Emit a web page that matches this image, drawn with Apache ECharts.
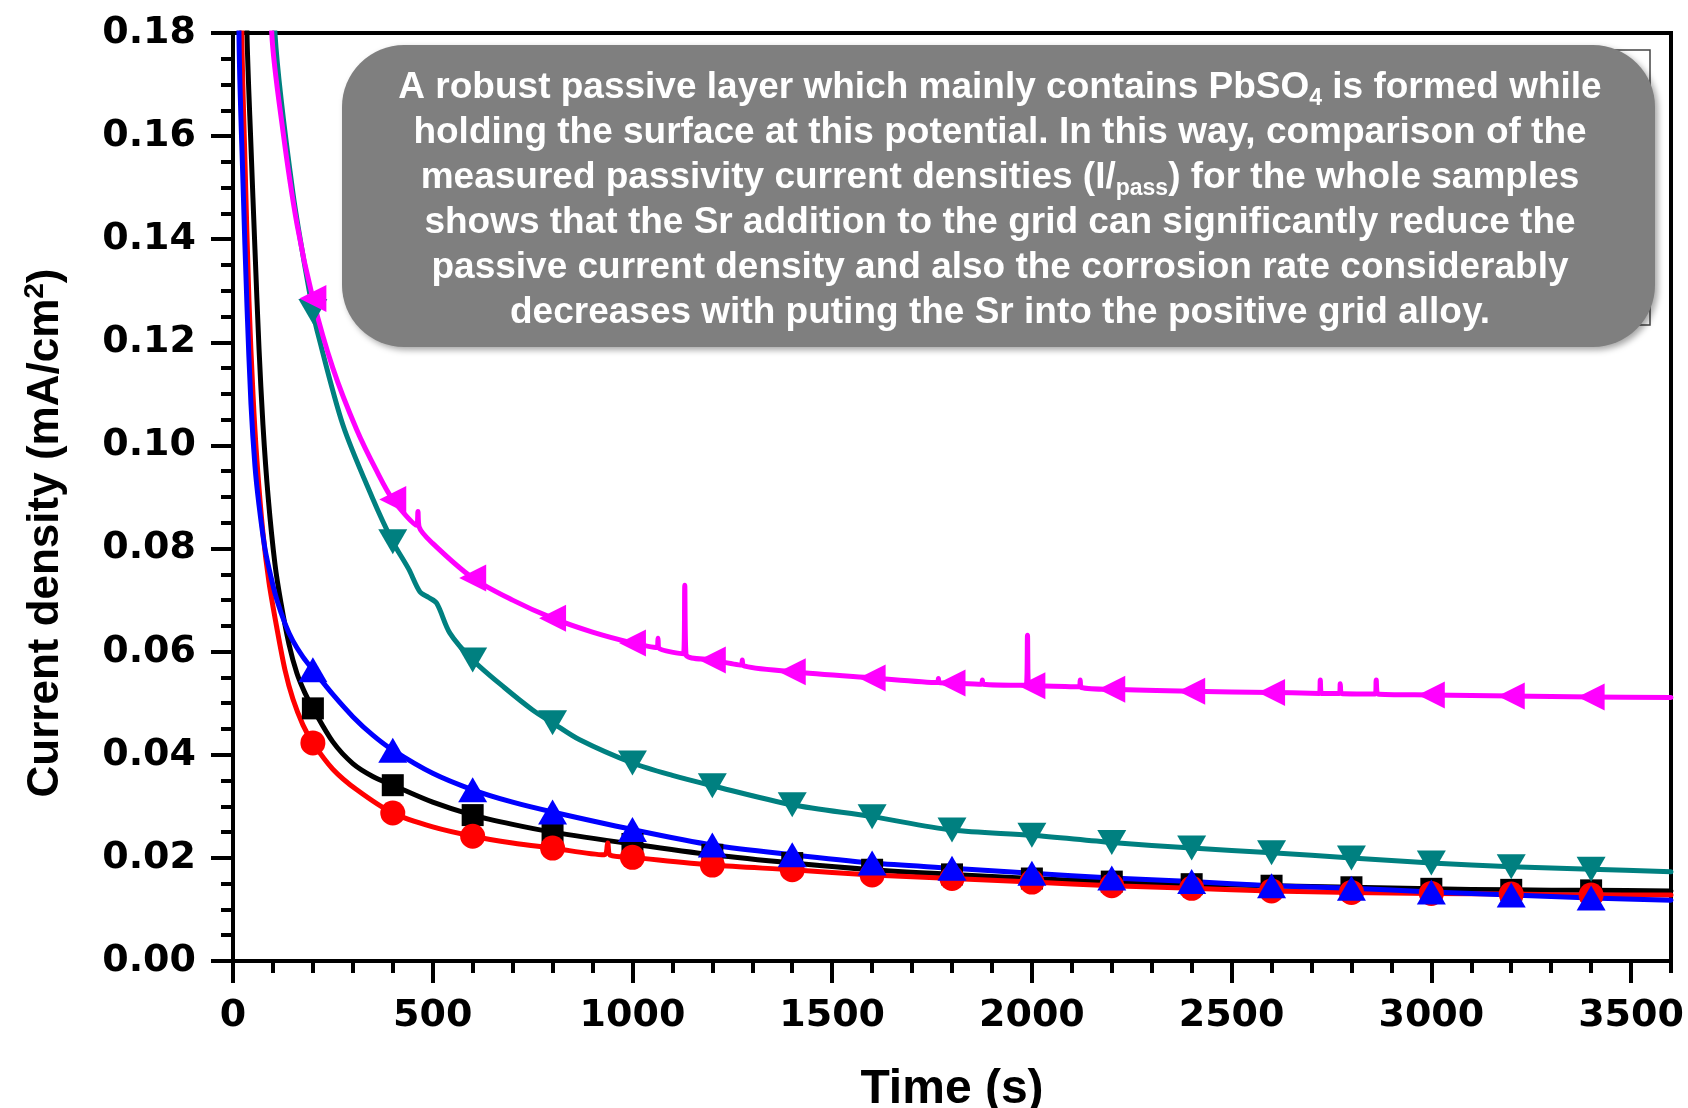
<!DOCTYPE html>
<html>
<head>
<meta charset="utf-8">
<title>Current density vs time</title>
<script src="https://cdn.jsdelivr.net/npm/echarts@6/dist/echarts.min.js"></script>
<style>
  html, body { margin: 0; padding: 0; background: #fff; }
  #chart { width: 1688px; height: 1108px; }
</style>
</head>
<body>
<div id="chart"></div>
<script>
// tick values
const xMajor = [0, 500, 1000, 1500, 2000, 2500, 3000, 3500];
const xMinor = [100, 200, 300, 400, 600, 700, 800, 900, 1100, 1200, 1300, 1400,
  1600, 1700, 1800, 1900, 2100, 2200, 2300, 2400, 2600, 2700, 2800, 2900,
  3100, 3200, 3300, 3400, 3600];

// [time (s), current density (mA/cm2)]
const blackSq = [[0, 0.6], [20, 0.26], [35, 0.18], [45, 0.158], [55, 0.138], [65, 0.119],
  [75, 0.104], [88, 0.09], [105, 0.077], [120, 0.0695], [140, 0.0615], [160, 0.0558],
  [180, 0.052], [200, 0.049], [250, 0.0425], [300, 0.0383], [350, 0.0358], [400, 0.0341],
  [500, 0.0308], [600, 0.0283], [700, 0.0265], [800, 0.025], [1000, 0.0227],
  [1200, 0.0206], [1400, 0.019], [1600, 0.0177], [1800, 0.0168], [2000, 0.016],
  [2200, 0.0154], [2400, 0.0149], [2600, 0.0146], [2800, 0.0143], [3000, 0.014],
  [3200, 0.0138], [3400, 0.0137], [3600, 0.0136]];

const redCirc = [[0, 0.6], [10, 0.3], [22, 0.18], [30, 0.155], [40, 0.128], [50, 0.11],
  [60, 0.097], [75, 0.083], [90, 0.0735], [110, 0.0645], [130, 0.0565], [150, 0.0508],
  [175, 0.0458], [200, 0.0423], [250, 0.0372], [310, 0.0332], [400, 0.0287],
  [500, 0.026], [600, 0.0242], [700, 0.0229], [800, 0.0219], [930, 0.0206],
  [938, 0.0229], [945, 0.0205], [1000, 0.0201], [1200, 0.0186], [1400, 0.0177],
  [1600, 0.0167], [1800, 0.016], [2000, 0.0153], [2200, 0.0146], [2400, 0.0141],
  [2600, 0.0136], [2800, 0.0133], [3000, 0.0131], [3200, 0.013], [3400, 0.0128],
  [3600, 0.0128]];

const blueTri = [[0, 0.5], [15, 0.18], [25, 0.151], [35, 0.127], [45, 0.108], [55, 0.096],
  [65, 0.0885], [80, 0.08], [95, 0.0745], [110, 0.07], [130, 0.0655], [150, 0.0621],
  [175, 0.059], [200, 0.0565], [250, 0.0517], [300, 0.0474], [350, 0.0438],
  [400, 0.0409], [500, 0.0364], [600, 0.0332], [700, 0.0308], [800, 0.0289],
  [1000, 0.0255], [1200, 0.0225], [1400, 0.0206], [1600, 0.019], [1800, 0.018],
  [2000, 0.017], [2200, 0.0161], [2400, 0.0154], [2600, 0.0146], [2800, 0.0141],
  [3000, 0.0134], [3200, 0.0128], [3400, 0.0122], [3600, 0.0118]];

const tealTri = [[0, 0.5], [60, 0.26], [105, 0.18], [150, 0.149], [200, 0.126],
  [210, 0.1224], [275, 0.104], [348, 0.09], [400, 0.0813], [440, 0.076], [468, 0.0716],
  [490, 0.0705], [510, 0.0694], [543, 0.0636], [600, 0.0584], [680, 0.053],
  [750, 0.0487], [800, 0.0462], [868, 0.0429], [1000, 0.0384], [1100, 0.036],
  [1200, 0.034], [1400, 0.0303], [1600, 0.028], [1800, 0.0254], [2000, 0.0244],
  [2200, 0.023], [2400, 0.0219], [2600, 0.021], [2800, 0.02], [3000, 0.019],
  [3200, 0.0183], [3400, 0.0178], [3600, 0.0173]];

const magTri = [[0, 0.6], [50, 0.28], [97, 0.18], [125, 0.161], [160, 0.143],
  [200, 0.1285], [250, 0.115], [310, 0.103], [360, 0.095], [400, 0.0895],
  [460, 0.0845], [463, 0.0872], [466, 0.0842], [500, 0.081], [600, 0.0743], [700, 0.07],
  [800, 0.0665], [900, 0.0638], [1000, 0.0617], [1062, 0.0608], [1064, 0.0626],
  [1066, 0.0607], [1128, 0.0596], [1131, 0.0729], [1134, 0.0595], [1200, 0.0584],
  [1273, 0.0574], [1275, 0.0584], [1277, 0.0573], [1400, 0.0561], [1600, 0.0549],
  [1764, 0.054], [1766, 0.0548], [1768, 0.054], [1800, 0.0539], [1874, 0.0537],
  [1876, 0.0545], [1878, 0.0537], [1986, 0.0535], [1989, 0.0632], [1992, 0.0534],
  [2000, 0.0534], [2119, 0.0532], [2121, 0.0545], [2123, 0.0531], [2200, 0.0527],
  [2400, 0.0523], [2600, 0.0521], [2720, 0.0519], [2722, 0.0545], [2725, 0.0519],
  [2770, 0.0519], [2772, 0.0538], [2775, 0.0519], [2860, 0.0518], [2862, 0.0545],
  [2866, 0.0518], [3000, 0.0516], [3200, 0.0514], [3400, 0.0512], [3600, 0.0511]];

const noteLines = [
  '{n|A robust passive layer which mainly contains PbSO}{sub|4}{n| is formed while}',
  '{n|holding the surface at this potential. In this way, comparison of the}',
  '{n|measured passivity current densities (I/}{sub|pass}{n|) for the whole samples}',
  '{n|shows that the Sr addition to the grid can significantly reduce the}',
  '{n|passive current density and also the corrosion rate considerably}',
  '{n|decreases with puting the Sr into the positive grid alloy.}'
];

const chart = echarts.init(document.getElementById('chart'));

// markers only every 200 s, the rest is a plain line
const withMarks = pts => pts.map(p =>
  (p[0] > 0 && p[0] < 3600 && p[0] % 200 === 0) ? { value: p } : { value: p, symbol: 'none' });

const makeSeries = (pts, color, symbol, size, rotate, width) => ({
  type: 'line',
  data: withMarks(pts),
  symbol: symbol,
  symbolSize: size,
  symbolRotate: rotate,
  showAllSymbol: true,
  smooth: 0.3,
  clip: true,
  itemStyle: { color: color },
  lineStyle: { color: color, width: width, cap: 'round', join: 'round' },
  emphasis: { disabled: true }
});

const tickFont = { fontFamily: 'DejaVu Sans', fontWeight: 'bold', fontSize: 38, color: '#000' };
const noteFont = { fontFamily: 'Liberation Sans', fontWeight: 'bold' };

const option = {
  animation: false,
  backgroundColor: '#fff',
  grid: {
    left: 233, right: 17, top: 33, bottom: 147,
    outerBoundsMode: 'none',
    show: true, borderColor: '#000', borderWidth: 4
  },
  xAxis: [
    {
      type: 'value', min: 0, max: 3600, interval: 500,
      position: 'bottom',
      name: 'Time (s)', nameLocation: 'middle', nameGap: 105,
      nameTextStyle: { fontFamily: 'Liberation Sans', fontWeight: 'bold', fontSize: 48, color: '#000' },
      axisLine: { lineStyle: { color: '#000', width: 4 } },
      axisTick: { customValues: xMajor, length: 22, lineStyle: { color: '#000', width: 4 } },
      axisLabel: Object.assign({ customValues: xMajor, margin: 36, formatter: v => String(v) }, tickFont),
      splitLine: { show: false }
    },
    {
      type: 'value', min: 0, max: 3600, interval: 100,
      position: 'bottom',
      axisLine: { show: false },
      axisTick: { customValues: xMinor, length: 12, lineStyle: { color: '#000', width: 4 } },
      axisLabel: { show: false },
      splitLine: { show: false }
    }
  ],
  yAxis: {
    type: 'value', min: 0, max: 0.18, interval: 0.02,
    axisLine: { show: true, lineStyle: { color: '#000', width: 4 } },
    axisTick: { show: true, length: 22, lineStyle: { color: '#000', width: 4 } },
    minorTick: { show: true, splitNumber: 4, length: 12, lineStyle: { color: '#000', width: 4 } },
    axisLabel: Object.assign({ margin: 37, formatter: v => v.toFixed(2) }, tickFont),
    splitLine: { show: false }
  },
  series: [
    makeSeries(blackSq, '#000000', 'rect', 22, 0, 5),
    makeSeries(redCirc, '#ff0000', 'circle', 25, 0, 5),
    makeSeries(blueTri, '#0000ff', 'triangle', [29, 25], 0, 5),
    makeSeries(tealTri, '#008080', 'triangle', [29, 25], 180, 5),
    makeSeries(magTri, '#ff00ff', 'triangle', [27, 27], 90, 5)
  ],
  graphic: [
    {
      type: 'text',
      x: 46, y: 533,
      rotation: Math.PI / 2,
      style: {
        text: '{t|Current density (mA/cm}{sup|2}{t|)}',
        align: 'center', verticalAlign: 'middle',
        rich: {
          t: { fontFamily: 'Liberation Sans', fontWeight: 'bold', fontSize: 44, lineHeight: 50, fill: '#000' },
          sup: { fontFamily: 'Liberation Sans', fontWeight: 'bold', fontSize: 28, lineHeight: 20, verticalAlign: 'top', fill: '#000' }
        }
      }
    },
    {
      // legend frame left behind the note box
      type: 'rect',
      shape: { x: 400, y: 50, width: 1250, height: 275 },
      style: { fill: 'none', stroke: '#444', lineWidth: 1.5 },
      z: 10
    },
    {
      type: 'rect',
      shape: { x: 342, y: 45, width: 1313, height: 302, r: 62 },
      style: {
        fill: '#7f7f7f',
        shadowBlur: 6, shadowColor: 'rgba(0,0,0,0.35)', shadowOffsetX: 3, shadowOffsetY: 3
      },
      z: 11
    },
    {
      type: 'text',
      x: 1000, y: 200,
      z: 12,
      style: {
        text: noteLines.join('\n'),
        align: 'center', verticalAlign: 'middle',
        rich: {
          n: Object.assign({ fontSize: 37, lineHeight: 45, fill: '#fff' }, noteFont),
          sub: Object.assign({ fontSize: 23, lineHeight: 18, verticalAlign: 'bottom', fill: '#fff' }, noteFont)
        }
      }
    }
  ]
};

chart.setOption(option);
</script>
</body>
</html>
